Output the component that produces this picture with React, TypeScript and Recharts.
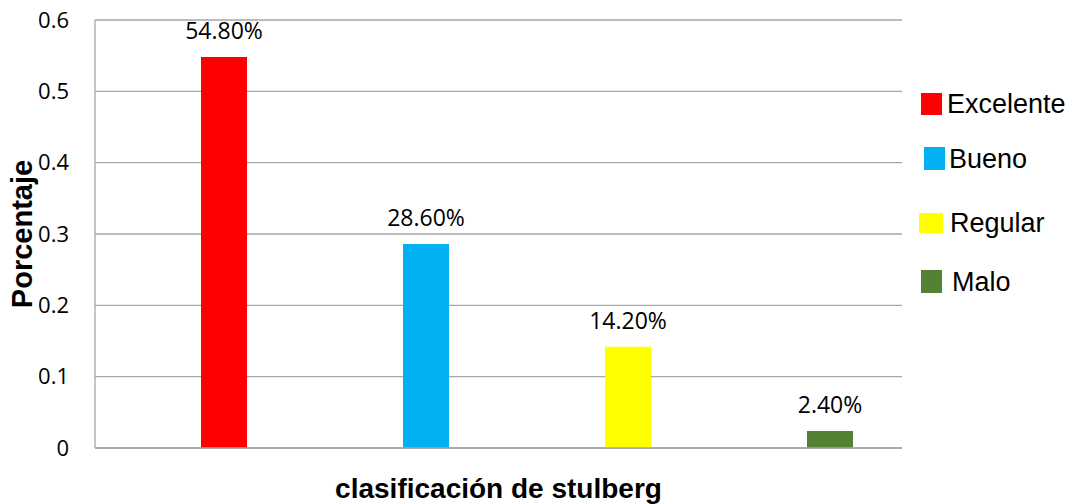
import { BarChart, Bar, XAxis, YAxis, CartesianGrid, LabelList, Label, Cell } from 'recharts';

const categories = ['Excelente', 'Bueno', 'Regular', 'Malo'];
const values = [0.548, 0.286, 0.142, 0.024];
const colors = ['#FF0000', '#00B0F0', '#FFFF00', '#548235'];
const yTicks = [0, 0.1, 0.2, 0.3, 0.4, 0.5, 0.6];

// legend placement (the original legend entries are unevenly spaced)
const legendLayout = [
  { top: 93, left: 921, w: 21, h: 22, textLeft: 947 },
  { top: 147, left: 924, w: 21, h: 23, textLeft: 949 },
  { top: 213, left: 919, w: 24, h: 20, textLeft: 950 },
  { top: 270, left: 921, w: 21, h: 23, textLeft: 952 },
];

const data = categories.map((name, i) => ({ name, value: values[i] }));

const GRID = '#a6a6a6';
const tickFont = { fontFamily: '"Open Sans", sans-serif', fontSize: 22, fill: '#000' };

function formatPct(v: number): string {
  return `${(v * 100).toFixed(2)}%`;
}

export default function App() {
  return (
    <div style={{ position: 'absolute', left: 0, top: 0, width: 1073, height: 504, background: '#fff' }}>
      <BarChart
        width={1073}
        height={504}
        data={data}
        margin={{ top: 20, right: 171, left: 0, bottom: 0 }}
      >
        <CartesianGrid vertical={false} stroke={GRID} strokeWidth={1.3} />
        <XAxis
          dataKey="name"
          tick={false}
          tickLine={false}
          axisLine={{ stroke: GRID, strokeWidth: 1.3 }}
          height={56}
          padding={{ left: 28, right: -29 }}
        >
          <Label
            content={({ viewBox }: any) => (
              <text
                x={viewBox.x + viewBox.width / 2}
                y={viewBox.y + 50}
                textAnchor="middle"
                fontFamily='"Liberation Sans", Arial, sans-serif'
                fontWeight="bold"
                fontSize={28}
                fill="#000"
              >
                clasificación de stulberg
              </text>
            )}
          />
        </XAxis>
        <YAxis
          domain={[0, 0.6]}
          ticks={yTicks}
          width={95}
          tickLine={false}
          tickSize={0}
          tickMargin={26}
          axisLine={{ stroke: GRID, strokeWidth: 1.3 }}
          tick={tickFont}
        >
          <Label
            content={({ viewBox }: any) => {
              const cx = viewBox.x + 22;
              const cy = viewBox.y + viewBox.height / 2;
              return (
                <text
                  x={cx}
                  y={cy}
                  transform={`rotate(-90 ${cx} ${cy})`}
                  dominantBaseline="central"
                  textAnchor="middle"
                  fontFamily='"Liberation Sans", Arial, sans-serif'
                  fontWeight="bold"
                  fontSize={29}
                  fill="#000"
                >
                  Porcentaje
                </text>
              );
            }}
          />
        </YAxis>
        <Bar dataKey="value" barSize={46} isAnimationActive={false}>
          {data.map((d, i) => (
            <Cell key={d.name} fill={colors[i]} />
          ))}
          <LabelList
            dataKey="value"
            position="top"
            offset={18}
            formatter={(v: any) => formatPct(Number(v))}
            style={{ fontFamily: '"Open Sans", sans-serif', fontSize: 23, fill: '#000' }}
          />
        </Bar>
      </BarChart>

      {/* Legend */}
      {categories.map((name, i) => {
        const l = legendLayout[i];
        return (
          <div key={name}>
            <div
              style={{
                position: 'absolute',
                left: l.left,
                top: l.top,
                width: l.w,
                height: l.h,
                background: colors[i],
              }}
            />
            <div
              style={{
                position: 'absolute',
                left: l.textLeft,
                top: l.top + l.h / 2 - 17,
                height: 34,
                lineHeight: '34px',
                fontFamily: '"Liberation Sans", Arial, sans-serif',
                fontSize: 27,
                color: '#000',
                whiteSpace: 'nowrap',
              }}
            >
              {name}
            </div>
          </div>
        );
      })}
    </div>
  );
}
